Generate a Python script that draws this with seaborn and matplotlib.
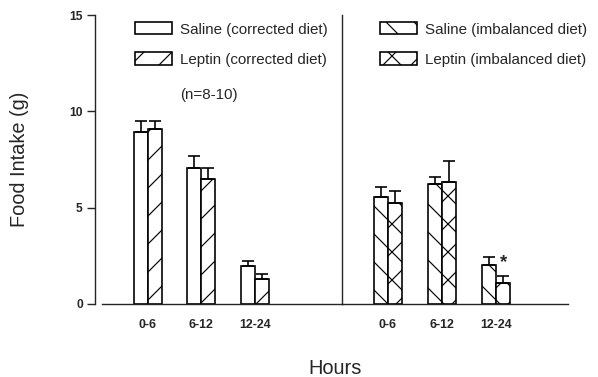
import pandas as pd
import matplotlib
matplotlib.use("Agg")
import matplotlib.pyplot as plt
import seaborn as sns

# Values (mean and upper SEM, grams)
hours = ["0-6", "6-12", "12-24"]

saline_corrected = [8.95, 7.05, 1.95]
saline_corrected_sem = [0.55, 0.62, 0.28]
leptin_corrected = [9.1, 6.5, 1.3]
leptin_corrected_sem = [0.42, 0.56, 0.27]

saline_imbalanced = [5.55, 6.25, 2.0]
saline_imbalanced_sem = [0.5, 0.35, 0.42]
leptin_imbalanced = [5.25, 6.35, 1.1]
leptin_imbalanced_sem = [0.6, 1.08, 0.37]

labels_corrected = ["Saline (corrected diet)", "Leptin (corrected diet)"]
labels_imbalanced = ["Saline (imbalanced diet)", "Leptin (imbalanced diet)"]

sns.set_style("ticks")
plt.rcParams["font.family"] = ["Liberation Sans", "DejaVu Sans"]
plt.rcParams["hatch.linewidth"] = 0.5

DPI = 168
fig = plt.figure(figsize=(598 / DPI, 377 / DPI), dpi=DPI)
ax_l = fig.add_axes([95 / 598, 73 / 377, 247 / 598, 289 / 377])
ax_r = fig.add_axes([342 / 598, 73 / 377, 226 / 598, 289 / 377])


def draw_panel(ax, saline, saline_sem, leptin, leptin_sem, labels, hatches):
    df = pd.DataFrame({
        "Hours": hours * 2,
        "Intake": saline + leptin,
        "Treatment": [labels[0]] * 3 + [labels[1]] * 3,
    })
    sns.barplot(data=df, x="Hours", y="Intake", hue="Treatment", order=hours,
                hue_order=labels, palette=["white", "white"], saturation=1,
                edgecolor="black", linewidth=0.7, width=0.52, gap=0,
                errorbar=None, legend=False, ax=ax)
    for cont, sem, hatch in zip(ax.containers, [saline_sem, leptin_sem], hatches):
        xs = []
        ys = []
        for bar in cont:
            bar.set_hatch(hatch)
            xs.append(bar.get_x() + bar.get_width() / 2)
            ys.append(bar.get_height())
        ax.errorbar(xs, ys, yerr=[[0] * len(sem), sem], fmt="none",
                    ecolor="black", elinewidth=0.7, capsize=2.6, capthick=0.7)
    ax.set_ylim(0, 15)
    ax.set_xlabel("")
    ax.set_ylabel("")
    ax.tick_params(axis="x", length=0, pad=6.5, labelsize=5.3)
    for t in ax.get_xticklabels():
        t.set_fontweight("bold")
    for s in ["top", "right"]:
        ax.spines[s].set_visible(False)
    for s in ["left", "bottom"]:
        ax.spines[s].set_linewidth(0.6)
    ax.patch.set_alpha(0)


draw_panel(ax_l, saline_corrected, saline_corrected_sem, leptin_corrected,
           leptin_corrected_sem, labels_corrected, ["", "//"])
draw_panel(ax_r, saline_imbalanced, saline_imbalanced_sem, leptin_imbalanced,
           leptin_imbalanced_sem, labels_imbalanced, ["\\\\", "xx"])

ax_l.set_xlim(-0.99, 3.63)
ax_r.set_xlim(-0.85, 3.33)
ax_l.spines["bottom"].set_bounds(-0.86, 3.63)

ax_l.set_yticks([0, 5, 10, 15])
ax_l.tick_params(axis="y", length=3.4, width=0.6, pad=1.8, labelsize=5.2)
for t in ax_l.get_yticklabels():
    t.set_fontweight("bold")
ax_l.set_ylabel("Food Intake (g)", fontsize=8.6)
ax_l.yaxis.set_label_coords(-66 / 247, 0.5)

ax_r.set_yticks([])

# legends
for ax, labels, x0 in [(ax_l, labels_corrected, 0.162), (ax_r, labels_imbalanced, 0.168)]:
    ax.legend(handles=ax.containers[:2], labels=labels, loc="upper left",
              bbox_to_anchor=(x0, 0.975), frameon=False, fontsize=6.5,
              handlelength=2.45, handleheight=0.85, handletextpad=0.5,
              labelspacing=1.05, borderpad=0, borderaxespad=0)

ax_l.text(85 / 247, (304 - 95) / 289, "(n=8-10)", transform=ax_l.transAxes,
          fontsize=6.5, va="center", ha="left")

# significance mark over leptin 12-24 (imbalanced)
star_bar = ax_r.containers[1][2]
ax_r.text(star_bar.get_x() + star_bar.get_width() / 2,
          leptin_imbalanced[2] + leptin_imbalanced_sem[2] + 0.25, "*",
          ha="center", va="bottom", fontsize=8, fontweight="bold")

fig.text(335 / 598, 1 - 368 / 377, "Hours", ha="center", va="center", fontsize=8.6)

fig.savefig("out.png", dpi=DPI, facecolor="white")
